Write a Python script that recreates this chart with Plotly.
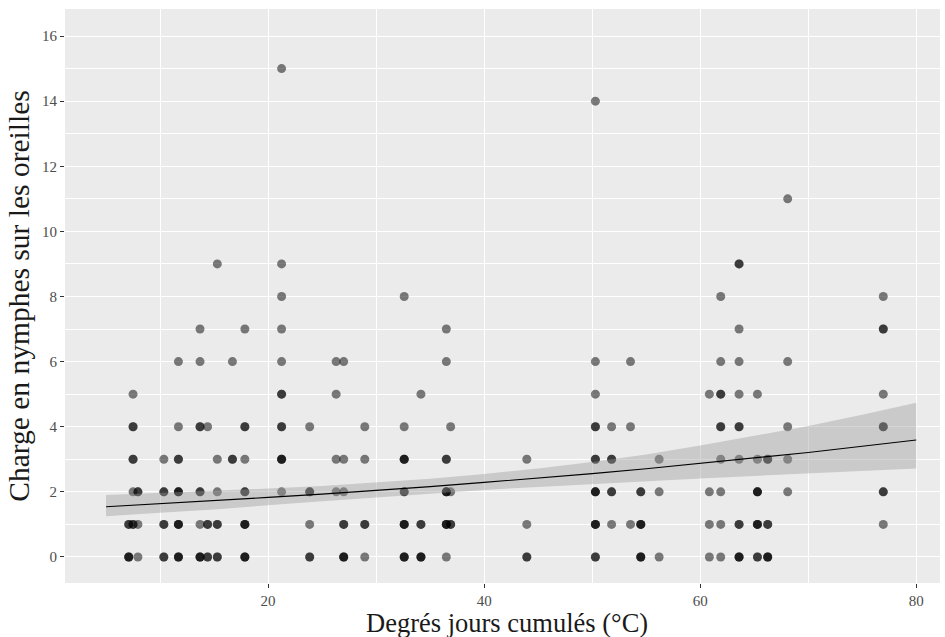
import plotly.graph_objects as go

# Observed points: x (degree-days), y (nymph load), n (number of overlapping observations)
x_obs = [7.1, 7.1,
         7.5, 7.5, 7.5, 7.5, 7.5,
         7.95, 7.95, 7.95,
         10.35, 10.35, 10.35, 10.35,
         11.7, 11.7, 11.7, 11.7, 11.7, 11.7,
         13.7, 13.7, 13.7, 13.7, 13.7, 13.7,
         14.4, 14.4, 14.4,
         15.3, 15.3, 15.3, 15.3, 15.3,
         16.7, 16.7,
         17.85, 17.85, 17.85, 17.85, 17.85, 17.85,
         21.25, 21.25, 21.25, 21.25, 21.25, 21.25, 21.25, 21.25, 21.25,
         23.85, 23.85, 23.85, 23.85,
         26.3, 26.3, 26.3, 26.3,
         27.0, 27.0, 27.0, 27.0, 27.0,
         28.95, 28.95, 28.95, 28.95,
         32.6, 32.6, 32.6, 32.6, 32.6, 32.6,
         34.15, 34.15, 34.15,
         36.5, 36.5, 36.5, 36.5, 36.5, 36.5,
         36.9, 36.9, 36.9,
         43.95, 43.95, 43.95,
         50.3, 50.3, 50.3, 50.3, 50.3, 50.3, 50.3, 50.3,
         51.8, 51.8, 51.8, 51.8,
         53.55, 53.55, 53.55,
         54.5, 54.5, 54.5,
         56.2, 56.2, 56.2,
         60.85, 60.85, 60.85, 60.85,
         61.9, 61.9, 61.9, 61.9, 61.9, 61.9, 61.9, 61.9,
         63.6, 63.6, 63.6, 63.6, 63.6, 63.6, 63.6, 63.6,
         65.3, 65.3, 65.3, 65.3, 65.3,
         66.25, 66.25, 66.25,
         68.1, 68.1, 68.1, 68.1, 68.1,
         76.95, 76.95, 76.95, 76.95, 76.95, 76.95]
y_obs = [1, 0,
         5, 4, 3, 2, 1,
         2, 1, 0,
         3, 2, 1, 0,
         6, 4, 3, 2, 1, 0,
         7, 6, 4, 2, 1, 0,
         4, 1, 0,
         9, 3, 2, 1, 0,
         6, 3,
         7, 4, 3, 2, 1, 0,
         15, 9, 8, 7, 6, 5, 4, 3, 2,
         4, 2, 1, 0,
         6, 5, 3, 2,
         6, 3, 2, 1, 0,
         4, 3, 1, 0,
         8, 4, 3, 2, 1, 0,
         5, 1, 0,
         7, 6, 3, 2, 1, 0,
         4, 2, 1,
         3, 1, 0,
         14, 6, 5, 4, 3, 2, 1, 0,
         4, 3, 2, 1,
         6, 4, 1,
         2, 1, 0,
         3, 2, 0,
         5, 2, 1, 0,
         8, 6, 5, 4, 3, 2, 1, 0,
         9, 7, 6, 5, 4, 3, 1, 0,
         5, 3, 2, 1, 0,
         3, 1, 0,
         11, 6, 4, 3, 2,
         8, 7, 5, 4, 2, 1]
n_obs = [2, 3,
         1, 2, 2, 1, 2,
         2, 1, 1,
         1, 2, 2, 2,
         1, 1, 2, 3, 3, 3,
         1, 1, 2, 2, 1, 3,
         1, 2, 2,
         1, 1, 1, 2, 2,
         1, 2,
         1, 2, 1, 2, 3, 3,
         1, 1, 1, 1, 1, 2, 2, 3, 1,
         1, 2, 1, 2,
         1, 1, 1, 1,
         1, 1, 1, 2, 3,
         1, 1, 2, 1,
         1, 1, 3, 2, 3, 3,
         1, 2, 3,
         1, 1, 2, 3, 3, 1,
         1, 1, 2,
         1, 1, 2,
         1, 1, 1, 2, 2, 3, 3, 2,
         1, 2, 2, 1,
         1, 1, 1,
         2, 3, 3,
         1, 1, 1,
         1, 1, 1, 1,
         1, 1, 2, 2, 1, 1, 1, 1,
         2, 1, 1, 1, 2, 1, 2, 3,
         1, 1, 3, 3, 2,
         2, 2, 3,
         1, 1, 1, 1, 1,
         1, 2, 1, 2, 2, 1]

# Poisson GLM smooth
fit_x = [5, 10, 15, 20, 25, 30, 35, 40, 45, 50, 55, 60, 65, 70, 75, 80]
fit_y = [1.54, 1.63, 1.72, 1.83, 1.93, 2.04, 2.16, 2.29, 2.42, 2.56, 2.71, 2.87, 3.04, 3.21, 3.40, 3.59]
fit_lo = [1.25, 1.36, 1.46, 1.59, 1.71, 1.83, 1.95, 2.06, 2.15, 2.24, 2.33, 2.41, 2.49, 2.56, 2.65, 2.72]
fit_hi = [1.90, 1.96, 2.02, 2.10, 2.18, 2.28, 2.40, 2.55, 2.72, 2.92, 3.15, 3.42, 3.71, 4.02, 4.37, 4.74]

x_ticks = [20, 40, 60, 80]
y_ticks = [0, 2, 4, 6, 8, 10, 12, 14, 16]

px_, py_ = [], []
for xv, yv, nv in zip(x_obs, y_obs, n_obs):
    px_ += [xv] * nv
    py_ += [yv] * nv

FONT = "Liberation Serif"
fig = go.Figure()
fig.add_trace(go.Scatter(x=px_, y=py_, mode="markers",
                         marker=dict(size=9, color="rgba(0,0,0,0.5)", line=dict(width=0)),
                         showlegend=False, hoverinfo="x+y"))
fig.add_trace(go.Scatter(x=fit_x + fit_x[::-1], y=fit_hi + fit_lo[::-1], mode="lines",
                         fill="toself", fillcolor="rgba(153,153,153,0.4)",
                         line=dict(width=0), showlegend=False, hoverinfo="skip"))
fig.add_trace(go.Scatter(x=fit_x, y=fit_y, mode="lines",
                         line=dict(color="black", width=1.1), showlegend=False))

axis_common = dict(showgrid=True, gridcolor="white", gridwidth=1.2, zeroline=False,
                   ticks="outside", ticklen=4, tickcolor="#333333", tickwidth=1,
                   tickfont=dict(family=FONT, size=15, color="#4D4D4D"),
                   showline=False, automargin=False)
fig.update_layout(
    width=945, height=637,
    margin=dict(l=65, r=5, t=9, b=54),
    paper_bgcolor="white", plot_bgcolor="#EBEBEB",
    font=dict(family=FONT),
    xaxis=dict(range=[1.2, 82.2], tickvals=x_ticks, ticktext=[str(v) for v in x_ticks],
               minor=dict(tickvals=[10, 30, 50, 70], showgrid=True, gridcolor="white",
                          gridwidth=0.6, ticks=""),
               **axis_common),
    yaxis=dict(range=[-0.8, 16.83], tickvals=y_ticks, ticktext=[str(v) for v in y_ticks],
               minor=dict(tickvals=[1, 3, 5, 7, 9, 11, 13, 15], showgrid=True,
                          gridcolor="white", gridwidth=0.6, ticks=""),
               title=dict(text="Charge en nymphes sur les oreilles",
                          font=dict(family=FONT, size=29.5, color="#1a1a1a"), standoff=3),
               **axis_common),
    annotations=[dict(text="Degrés jours cumulés (°C)", xref="paper", yref="paper",
                      x=0.505, y=-54 / 574, xanchor="center", yanchor="bottom", yshift=-3,
                      showarrow=False, font=dict(family=FONT, size=26.5, color="#1a1a1a"))],
)
fig.write_html("out.html")
